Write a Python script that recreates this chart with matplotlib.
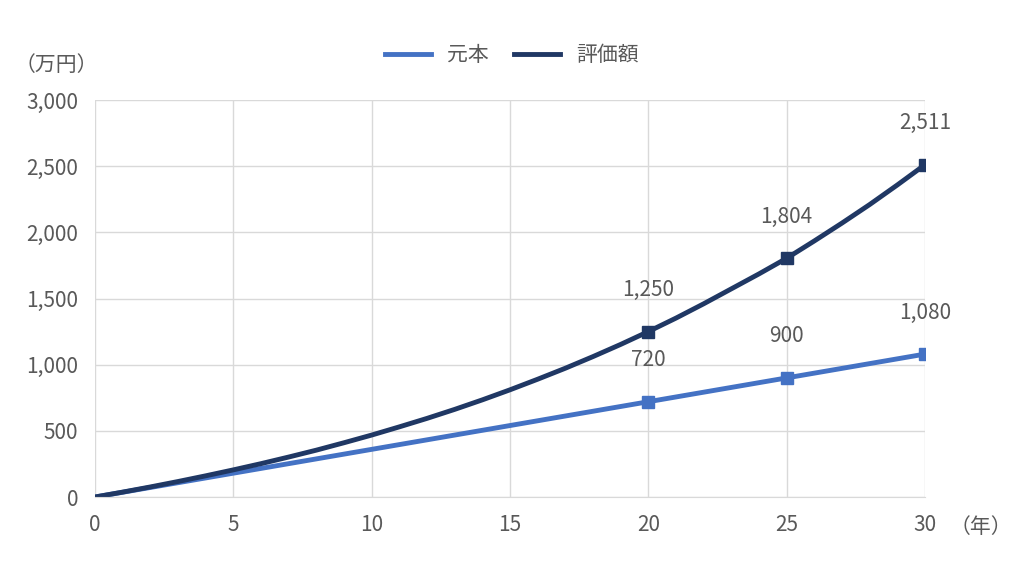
import matplotlib
matplotlib.use("Agg")
import matplotlib.pyplot as plt

plt.rcParams['font.family'] = ['Noto Sans CJK JP', 'DejaVu Sans']

years = list(range(0, 31))
principal = [36 * y for y in years]
valuation = [0, 37, 76, 117, 160, 205, 252, 302, 354, 410, 468, 530, 594, 662, 734,
             810, 890, 973, 1061, 1153, 1250, 1352, 1460, 1573, 1686, 1804, 1935,
             2070, 2210, 2358, 2511]
mark_years = [20, 25, 30]
principal_labels = [720, 900, 1080]
valuation_labels = [1250, 1804, 2511]

c1 = '#4472C4'
c2 = '#203864'
tc = '#595959'

fig = plt.figure(figsize=(10.24, 5.77), dpi=100)
ax = fig.add_axes([95/1024, 80/577, 830/1024, 397/577])
ax.plot(years, principal, color=c1, lw=3.5, label='元本')
ax.plot(years, valuation, color=c2, lw=3.5, label='評価額')
ax.plot(mark_years, [principal[y] for y in mark_years], 's', color=c1, ms=9)
ax.plot(mark_years, [valuation[y] for y in mark_years], 's', color=c2, ms=9)
for y, v in zip(mark_years, principal_labels):
    ax.annotate(f'{v:,}', (y, v), xytext=(0, 22), textcoords='offset points',
                ha='center', va='bottom', fontsize=15, color=tc)
for y, v in zip(mark_years, valuation_labels):
    ax.annotate(f'{v:,}', (y, v), xytext=(0, 22), textcoords='offset points',
                ha='center', va='bottom', fontsize=15, color=tc)

ax.set_xlim(0, 30)
ax.set_ylim(0, 3000)
ax.set_xticks([0, 5, 10, 15, 20, 25, 30])
ax.set_yticks(range(0, 3001, 500))
ax.set_yticklabels([f'{v:,}' for v in range(0, 3001, 500)])
ax.grid(True, color='#D9D9D9', lw=1)
ax.set_axisbelow(True)
for s in ['top', 'right', 'left']:
    ax.spines[s].set_visible(False)
ax.spines['bottom'].set_color('#D9D9D9')
ax.tick_params(length=0, labelsize=15, colors=tc, pad=12)

fig.text(15/1024, 1 - 65/577, '（万円）', fontsize=15, color=tc, va='center')
fig.text(950/1024, 1 - 527/577, '（年）', fontsize=15, color=tc, va='center')
fig.legend(loc='center', bbox_to_anchor=(0.5, 1 - 55/577), ncol=2, frameon=False,
           fontsize=15, labelcolor=tc, handlelength=2.2, columnspacing=1.2)
fig.savefig('out.png', dpi=100)
